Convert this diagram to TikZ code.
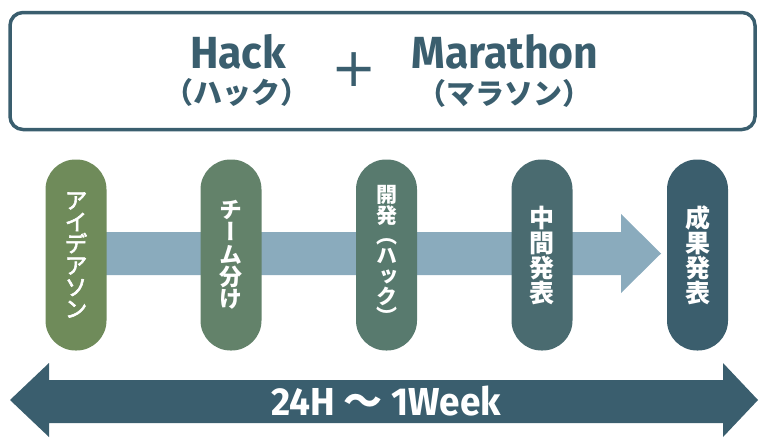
\documentclass[tikz,border=0pt]{standalone}
\usepackage{fontspec}
\setmainfont{Fira Sans}
\newfontfamily\condfont[FakeStretch=0.95]{Fira Sans}
\newfontfamily\plusfont{DejaVu Sans}
\newfontfamily\jpfont{Noto Sans CJK JP}
\newfontfamily\jpvert[RawFeature=+vert]{Noto Sans CJK JP}
\newfontfamily\jpvertmed[RawFeature=+vert,FakeBold=2.5]{Noto Sans CJK JP}
\definecolor{slate}{HTML}{3A5E6E}
\definecolor{band}{HTML}{8AABBD}
\definecolor{pa}{HTML}{6F8B5A}
\definecolor{pb}{HTML}{63826A}
\definecolor{pc}{HTML}{587A6E}
\definecolor{pd}{HTML}{4A6B70}
\definecolor{pe}{HTML}{3B5E6D}
\begin{document}
\begin{tikzpicture}[x=1pt,y=-1pt,
  pill/.style={draw=none,rounded corners=30pt,minimum width=61pt,minimum height=191pt,inner sep=0pt},
  vtext/.style={text=white,align=center,inner sep=0pt},
  titletext/.style={text=slate,inner sep=0pt}]
\useasboundingbox (0,0) rectangle (759,437);
% top frame
\node[draw=slate,line width=3.5pt,rounded corners=13pt,minimum width=745pt,minimum height=117pt,inner sep=0pt] (frame) at (382.5,71) {};
\node[titletext,anchor=base,font=\condfont\bfseries\fontsize{45}{45}\selectfont] (hack) at (238,68) {Hack};
\node[titletext,anchor=base,font=\condfont\bfseries\fontsize{45}{45}\selectfont] (mara) at (505,68) {Marathon};
\node[titletext,font=\jpfont\bfseries\fontsize{29}{29}\selectfont] (hackj) at (237,92) {（ハック）};
\node[titletext,font=\jpfont\bfseries\fontsize{29}{29}\selectfont] (maraj) at (504,93) {（マラソン）};
\node[titletext,font=\plusfont\fontsize{54}{54}\selectfont] (plus) at (354,70) {+};
% band arrow
\coordinate (bs) at (76,232);
\fill[band] (bs) -- (621,232) -- (621,214) -- (661,253.5) -- (621,293) -- (621,275) -- (76,275) -- cycle;
% pills
\node[pill,fill=pa] (p1) at (76,255) {};
\node[pill,fill=pb] (p2) at (231,255) {};
\node[pill,fill=pc] (p3) at (386.5,255) {};
\node[pill,fill=pd] (p4) at (542,255) {};
\node[pill,fill=pe] (p5) at (697.5,255) {};
\node[vtext,font=\jpvertmed\fontsize{23}{21.7}\selectfont] (t1) at (p1.center) {ア\\イ\\デ\\ア\\ソ\\ン};
\node[vtext,font=\jpvert\bfseries\fontsize{23}{22.3}\selectfont] (t2) at (p2.center) {チ\\ー\\ム\\分\\け};
\node[vtext,font=\jpvert\bfseries\fontsize{21}{20.3}\selectfont] (t3) at (p3.center) {開\\[0.5pt]発\\（\\ハ\\ッ\\ク\\）};
\node[vtext,font=\jpvert\bfseries\fontsize{25}{25}\selectfont] (t4) at (p4.center) {中\\間\\発\\表};
\node[vtext,font=\jpvert\bfseries\fontsize{25}{25}\selectfont] (t5) at (p5.center) {成\\果\\発\\表};
% bottom double arrow
\fill[slate] (10,400) -- (49,363) -- (49,380) -- (723,380) -- (723,363) -- (758,400) -- (723,437) -- (723,423) -- (49,423) -- (49,437) -- cycle;
\node[text=white,inner sep=0pt,anchor=base,font=\condfont\bfseries\fontsize{39}{39}\selectfont] (dur) at (386,415) {24H {\jpfont\bfseries ～} 1Week};
\end{tikzpicture}
\end{document}
